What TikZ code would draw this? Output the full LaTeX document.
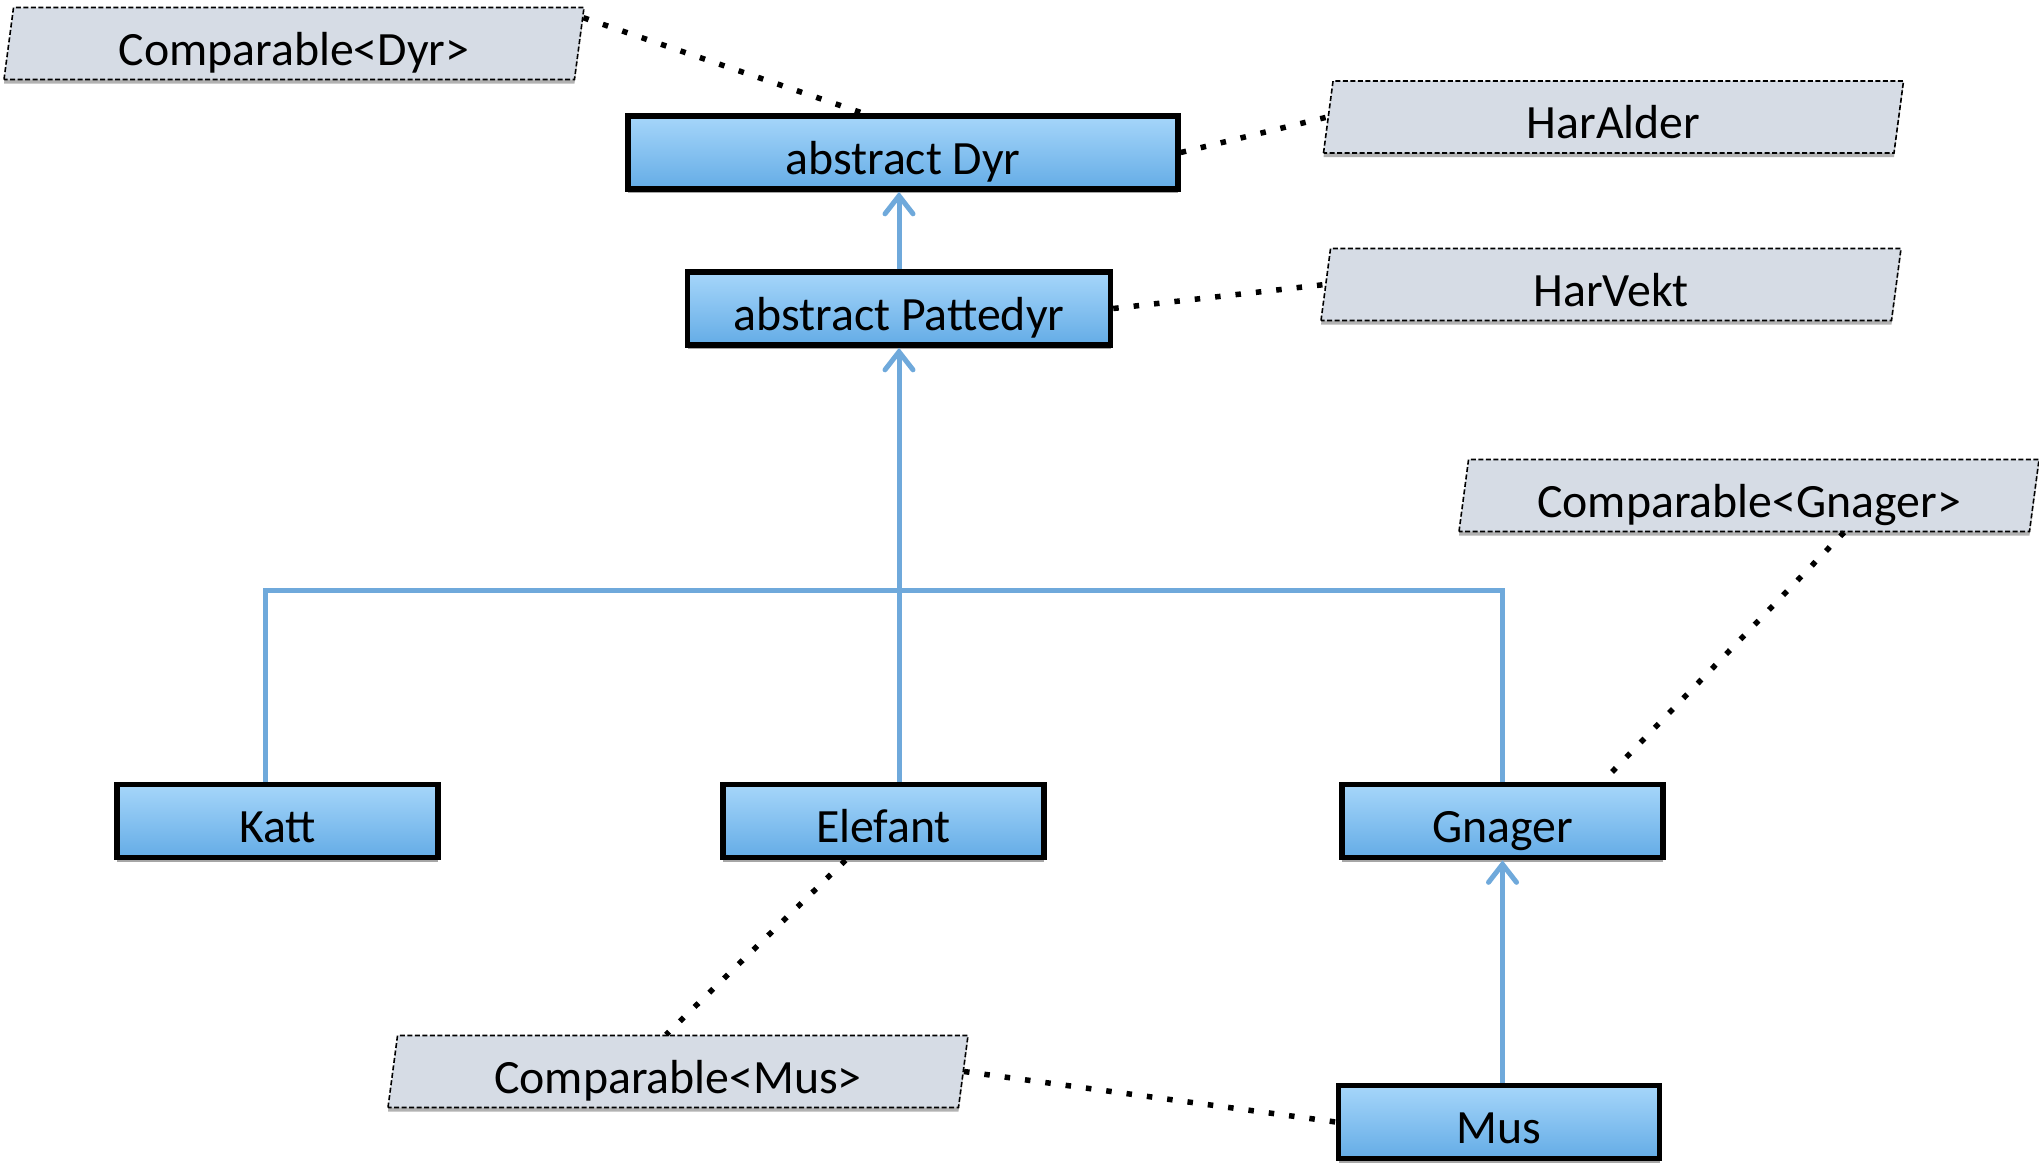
\documentclass[tikz,border=0pt]{standalone}
\usepackage{fontspec}
\setmainfont{Carlito}
\usetikzlibrary{shapes.geometric,shadows,arrows.meta,calc}

\definecolor{clstop}{RGB}{166,214,250}
\definecolor{clsbot}{RGB}{100,172,230}
\definecolor{ifacefill}{RGB}{214,220,229}
\definecolor{inhline}{RGB}{111,169,219}

\tikzset{
  classbox/.style={rectangle, draw=black, line width=5.5pt,
    top color=clstop, bottom color=clsbot,
    minimum height=73pt, inner sep=0pt,
    font=\fontsize{47.8}{57}\selectfont, text height=43pt, text depth=0pt,
    drop shadow={shadow xshift=0pt, shadow yshift=-4pt, opacity=0.35, fill=black}},
  iface/.style={trapezium, trapezium left angle=77.5, trapezium right angle=102.5,
    trapezium stretches body, draw=black, line width=1.6pt,
    dash pattern=on 5pt off 2.5pt, fill=ifacefill,
    minimum width=580pt, minimum height=72pt, inner sep=0pt,
    font=\fontsize{47.8}{57}\selectfont, text height=43pt, text depth=0pt,
    drop shadow={shadow xshift=0pt, shadow yshift=-4pt, opacity=0.3, fill=black}},
  inh/.style={draw=inhline, line width=5pt},
  inharrow/.style={inh, -{Straight Barb[length=18pt, width=28pt, line cap=round]}},
  realizes/.style={draw=black, line width=5.5pt, dash pattern=on 5.5pt off 15pt},
}

\begin{document}
\begin{tikzpicture}[x=1pt, y=-1pt]
  \useasboundingbox (0,0) rectangle (2039,1167);

  % interfaces
  \node[iface] (cdyr)    at (294,43.5)   {Comparable<Dyr>};
  \node[iface] (alder)   at (1613.5,117) {HarAlder};
  \node[iface] (vekt)    at (1611,284.5) {HarVekt};
  \node[iface] (cgnager) at (1749,495.5) {Comparable<Gnager>};
  \node[iface] (cmus)    at (678,1071.5) {Comparable<Mus>};

  % classes
  \node[classbox, minimum width=550pt] (dyr)      at (903,152.5)  {abstract Dyr};
  \node[classbox, minimum width=423pt] (pattedyr) at (899,308.5)  {abstract Pattedyr};
  \node[classbox, minimum width=321pt] (katt)     at (277.5,821)  {Katt};
  \node[classbox, minimum width=321pt] (elefant)  at (883.5,821)  {Elefant};
  \node[classbox, minimum width=321pt] (gnager)   at (1502.5,821) {Gnager};
  \node[classbox, minimum width=321pt] (mus)      at (1499,1122)  {Mus};

  % inheritance
  \coordinate (barL) at (265,590);
  \coordinate (barR) at (1502.5,590);
  \draw[inh] (katt.north -| barL) -- (barL) -- (barR) -- (gnager.north);
  \draw[inharrow] (elefant.north -| pattedyr.south) -- (pattedyr.south);
  \draw[inharrow] (pattedyr.north) -- (pattedyr.north |- dyr.south);
  \draw[inharrow] (mus.north -| gnager.south) -- (gnager.south);

  % implemented interfaces
  \draw[realizes] ($(cdyr.top right corner)!0.15!(cdyr.bottom right corner)$) -- ($(dyr.north)+(-40,0)$);
  \draw[realizes] (dyr.east) -- (alder.west);
  \draw[realizes] (pattedyr.east) -- (vekt.west);
  \draw[realizes] ($(cgnager.south)+(95,0)$) -- ($(gnager.north)+(100,0)$);
  \draw[realizes] ($(elefant.south)+(-38,0)$) -- ($(cmus.north)+(-12,0)$);
  \draw[realizes] (cmus.east) -- (mus.west);
\end{tikzpicture}
\end{document}
